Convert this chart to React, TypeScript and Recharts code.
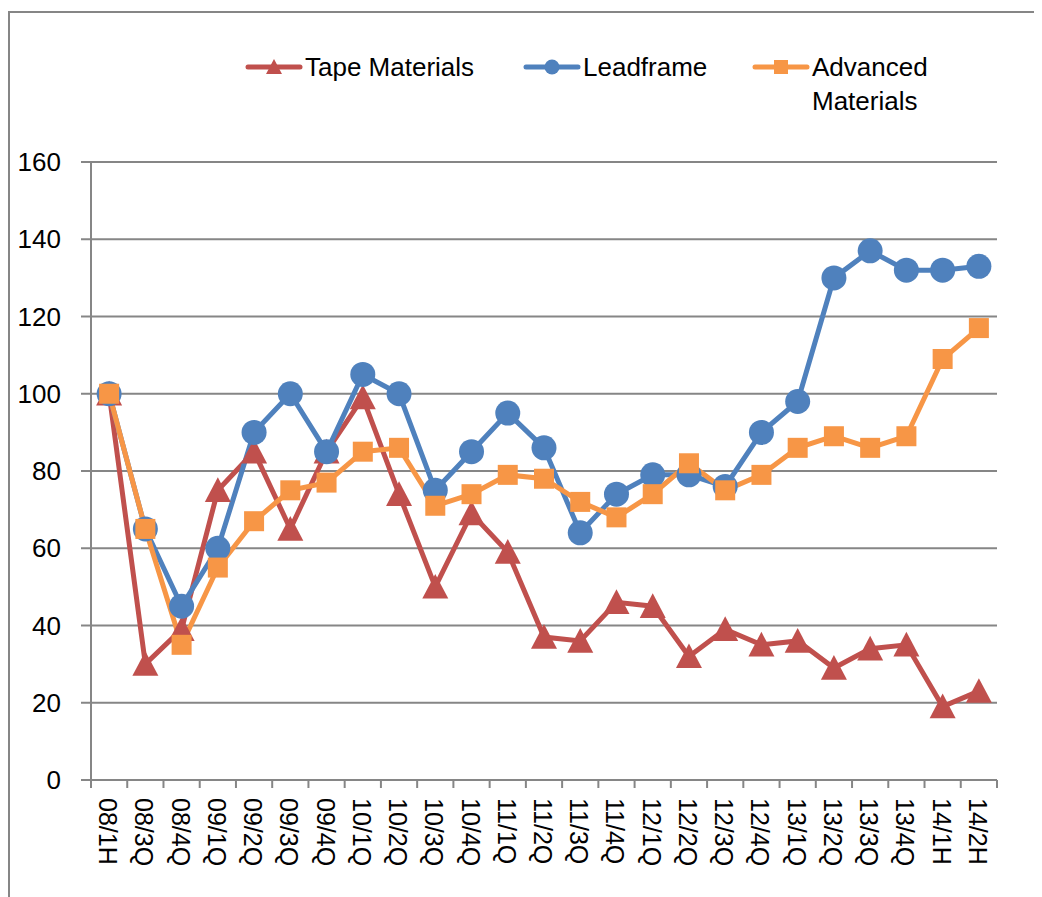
import React from 'react';
import { LineChart, Line, XAxis, YAxis, CartesianGrid } from 'recharts';

const periods = ['08/1H', '08/3Q', '08/4Q', '09/1Q', '09/2Q', '09/3Q', '09/4Q', '10/1Q', '10/2Q', '10/3Q', '10/4Q', '11/1Q', '11/2Q', '11/3Q', '11/4Q', '12/1Q', '12/2Q', '12/3Q', '12/4Q', '13/1Q', '13/2Q', '13/3Q', '13/4Q', '14/1H', '14/2H'];
const tapeMaterials = [100, 30, 39, 75, 85, 65, 85, 99, 74, 50, 69, 59, 37, 36, 46, 45, 32, 39, 35, 36, 29, 34, 35, 19, 23];
const leadframe = [100, 65, 45, 60, 90, 100, 85, 105, 100, 75, 85, 95, 86, 64, 74, 79, 79, 76, 90, 98, 130, 137, 132, 132, 133];
const advancedMaterials = [100, 65, 35, 55, 67, 75, 77, 85, 86, 71, 74, 79, 78, 72, 68, 74, 82, 75, 79, 86, 89, 86, 89, 109, 117];
const yTicks = [0, 20, 40, 60, 80, 100, 120, 140, 160];

const RED = '#C0504D';
const BLUE = '#4F81BD';
const ORANGE = '#F79646';
const GRID = '#868686';
const FONT = '"Liberation Sans", Arial, sans-serif';

const W = 1034;
const H = 889;
const PLOT_LEFT = 83;
const PLOT_RIGHT = 45;
const HALF_BAND = (W - PLOT_LEFT - PLOT_RIGHT) / periods.length / 2;

const data = periods.map((p, i) => ({
  period: p,
  tape: tapeMaterials[i],
  lead: leadframe[i],
  adv: advancedMaterials[i],
}));

const Triangle = (props: any) => {
  const { cx, cy, index } = props;
  if (cx == null || cy == null) return null;
  const s = 13;
  return (
    <polygon
      key={`t-${index}`}
      points={`${cx},${cy - s} ${cx - s},${cy + s * 0.9} ${cx + s},${cy + s * 0.9}`}
      fill={RED}
    />
  );
};

const Square = (props: any) => {
  const { cx, cy, index } = props;
  if (cx == null || cy == null) return null;
  return <rect key={`s-${index}`} x={cx - 10} y={cy - 10} width={20} height={20} fill={ORANGE} />;
};

const XTick = (props: any) => {
  const { x, y, payload } = props;
  const last = payload.value === periods[periods.length - 1];
  return (
    <g>
      <line x1={x - HALF_BAND} y1={y} x2={x - HALF_BAND} y2={y + 8} stroke={GRID} strokeWidth={2} />
      {last && <line x1={x + HALF_BAND} y1={y} x2={x + HALF_BAND} y2={y + 8} stroke={GRID} strokeWidth={2} />}
      <text
        transform={`translate(${x - 1},${y + 18}) rotate(90)`}
        textAnchor="start"
        dominantBaseline="central"
        fontSize={25}
        fontFamily={FONT}
        fill="#000"
      >
        {payload.value}
      </text>
    </g>
  );
};

const legendItems = [
  { name: 'Tape Materials', color: RED, shape: 'triangle', left: 237, width: 200 },
  { name: 'Leadframe', color: BLUE, shape: 'circle', left: 515, width: 160 },
  { name: 'Advanced Materials', color: ORANGE, shape: 'square', left: 744, width: 130 },
];

const LegendMarker = ({ color, shape }: { color: string; shape: string }) => (
  <svg width={58} height={20} style={{ flexShrink: 0, marginTop: 7 }}>
    <line x1={3} y1={10} x2={55} y2={10} stroke={color} strokeWidth={5} strokeLinecap="round" />
    {shape === 'triangle' && <polygon points="29,2 21,17 37,17" fill={color} />}
    {shape === 'circle' && <circle cx={29} cy={10} r={7.5} fill={color} />}
    {shape === 'square' && <rect x={22} y={3} width={14} height={14} fill={color} />}
  </svg>
);

export default function App() {
  return (
    <div style={{ position: 'relative', width: W, height: H, fontFamily: FONT }}>
      <div
        style={{
          position: 'absolute',
          left: 0,
          top: 3,
          width: W,
          height: H - 3,
          borderTop: `2px solid ${GRID}`,
          borderLeft: `2px solid ${GRID}`,
          boxSizing: 'border-box',
        }}
      />
      {legendItems.map((it) => (
        <div
          key={it.name}
          style={{ position: 'absolute', left: it.left, top: 42, display: 'flex', alignItems: 'flex-start' }}
        >
          <LegendMarker color={it.color} shape={it.shape} />
          <div style={{ fontSize: 26, lineHeight: '34px', color: '#000', width: it.width, marginLeft: 2 }}>{it.name}</div>
        </div>
      ))}
      <div style={{ position: 'absolute', left: 0, top: 0 }}>
        <LineChart width={W} height={H} data={data} margin={{ top: 154, right: PLOT_RIGHT, left: 0, bottom: 0 }}>
          <CartesianGrid vertical={false} stroke={GRID} strokeWidth={2} />
          <XAxis
            dataKey="period"
            interval={0}
            height={117}
            padding={{ left: HALF_BAND, right: HALF_BAND }}
            tickSize={0}
            tickMargin={0}
            tickLine={false}
            tick={<XTick />}
            axisLine={{ stroke: GRID, strokeWidth: 2 }}
          />
          <YAxis
            domain={[0, 160]}
            ticks={yTicks}
            width={PLOT_LEFT}
            tickSize={10}
            tickMargin={20}
            tickLine={{ stroke: GRID, strokeWidth: 2 }}
            axisLine={{ stroke: GRID, strokeWidth: 2 }}
            tick={{ fontSize: 26, fill: '#000', fontFamily: FONT }}
            interval={0}
          />
          <Line
            dataKey="tape"
            stroke={RED}
            strokeWidth={5}
            dot={<Triangle />}
            activeDot={false}
            isAnimationActive={false}
          />
          <Line
            dataKey="lead"
            stroke={BLUE}
            strokeWidth={5}
            dot={{ r: 12.5, fill: BLUE, stroke: 'none' }}
            activeDot={false}
            isAnimationActive={false}
          />
          <Line
            dataKey="adv"
            stroke={ORANGE}
            strokeWidth={5}
            dot={<Square />}
            activeDot={false}
            isAnimationActive={false}
          />
        </LineChart>
      </div>
    </div>
  );
}
